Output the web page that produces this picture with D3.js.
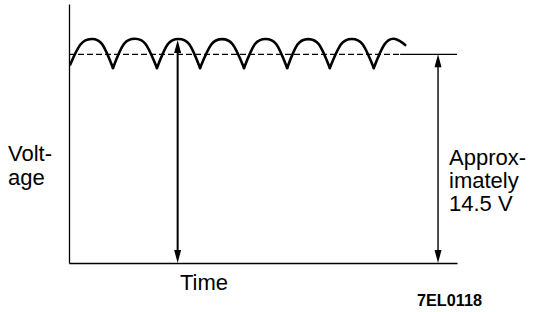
<!DOCTYPE html>
<html lang="en">
<head>
    <meta charset="UTF-8">
    <title>Charging voltage ripple</title>
    <style>
        body { margin: 0; background: #fff; }
        text { font-family: "Liberation Sans", Arial, sans-serif; fill: #000; }
    </style>
</head>
<body>

    <div id="d3-container"></div>

    <script src="https://d3js.org/d3.v7.min.js"></script>
    <script>
        // ripple: one array per half wave (time in ripple periods, volts)
        const arcTimes = [
            [0.03, 0.27, 0.52, 0.77, 1.02],
            [1.02, 1.27, 1.53, 1.78, 2.04],
            [2.04, 2.29, 2.54, 2.79, 3.04],
            [3.04, 3.30, 3.55, 3.80, 4.06],
            [4.06, 4.31, 4.56, 4.81, 5.06],
            [5.06, 5.30, 5.55, 5.80, 6.05],
            [6.05, 6.31, 6.56, 6.81, 7.07],
            [7.07, 7.32, 7.57, 7.80]];
        const arcVolts = [
            [13.8, 15.2, 15.57, 15.2, 13.55],
            [13.55, 15.2, 15.58, 15.2, 13.55],
            [13.55, 15.2, 15.57, 15.2, 13.55],
            [13.55, 15.18, 15.56, 15.18, 13.55],
            [13.55, 15.2, 15.57, 15.2, 13.55],
            [13.55, 15.18, 15.56, 15.18, 13.55],
            [13.55, 15.2, 15.57, 15.2, 13.55],
            [13.55, 15.2, 15.57, 15.15]];

        const avgVolt = 14.5;
        const dashEnd = 7.68;        // dashed part of the 14.5 V line ends here
        const peakArrowT = 2.52;     // arrow from 0 up to a ripple peak
        const peakArrowV = 15.5;
        const levelArrowT = 8.56;    // arrow from 0 up to 14.5 V

        const yLabel = ["Volt-", "age"];
        const xLabel = "Time";
        const note = ["Approx-", "imately", "14.5 V"];
        const figCode = "7EL0118";

        const width = 544;
        const height = 312;

        const svg = d3.select('#d3-container')
            .append('svg')
            .attr('width', width)
            .attr('height', height)
            .attr('viewBox', [0, 0, width, height]);

        const x = d3.scaleLinear()
            .domain([0, 9])
            .range([69, 457]);

        const y = d3.scaleLinear()
            .domain([0, 18])
            .range([263, 4]);

        // axes without ticks
        svg.append('g')
            .attr('transform', `translate(${x(0)},0)`)
            .call(d3.axisLeft(y).tickValues([]).tickSizeOuter(0))
            .select('.domain').attr('stroke-width', 1.3);
        svg.append('g')
            .attr('transform', `translate(0,${y(0)})`)
            .call(d3.axisBottom(x).tickValues([]).tickSizeOuter(0))
            .select('.domain').attr('stroke-width', 1.3);

        // 14.5 V level: dashed over the ripple, solid after it
        svg.append('line')
            .attr('x1', x(0)).attr('x2', x(dashEnd))
            .attr('y1', y(avgVolt)).attr('y2', y(avgVolt))
            .attr('stroke', '#000')
            .attr('stroke-width', 1.1)
            .attr('stroke-dasharray', '6 3');
        svg.append('line')
            .attr('x1', x(dashEnd)).attr('x2', x(9))
            .attr('y1', y(avgVolt)).attr('y2', y(avgVolt))
            .attr('stroke', '#000')
            .attr('stroke-width', 1.4);

        // ripple
        const wave = d3.line()
            .x(d => x(d[0]))
            .y(d => y(d[1]))
            .curve(d3.curveNatural);

        svg.append('g')
            .selectAll('path')
            .data(arcTimes.map((ts, i) => ts.map((t, j) => [t, arcVolts[i][j]])))
            .join('path')
            .attr('d', wave)
            .attr('fill', 'none')
            .attr('stroke', '#000')
            .attr('stroke-width', 2.6)
            .attr('stroke-linecap', 'round');

        // double headed arrows
        function arrow(t, v0, v1, w) {
            const px = x(t), top = y(v1), bot = y(v0);
            const g = svg.append('g');
            g.append('line')
                .attr('x1', px).attr('x2', px)
                .attr('y1', top + 6).attr('y2', bot - 6)
                .attr('stroke', '#000')
                .attr('stroke-width', w);
            g.append('path')
                .attr('d', `M${px},${top}L${px - 3.5},${top + 13}L${px + 3.5},${top + 13}Z`);
            g.append('path')
                .attr('d', `M${px},${bot}L${px - 3.5},${bot - 13}L${px + 3.5},${bot - 13}Z`);
        }
        arrow(peakArrowT, 0, peakArrowV, 2);
        arrow(levelArrowT, 0, avgVolt, 1.4);

        // labels
        svg.append('g')
            .selectAll('text')
            .data(yLabel)
            .join('text')
            .attr('x', 8)
            .attr('y', (d, i) => 161 + i * 23.5)
            .attr('font-size', 22)
            .text(d => d);

        svg.append('text')
            .attr('x', 180)
            .attr('y', 290)
            .attr('font-size', 22)
            .text(xLabel);

        svg.append('g')
            .selectAll('text')
            .data(note)
            .join('text')
            .attr('x', 449)
            .attr('y', (d, i) => 165 + i * 23)
            .attr('font-size', 22)
            .text(d => d);

        svg.append('text')
            .attr('x', 417)
            .attr('y', 306)
            .attr('font-size', 17)
            .attr('font-weight', 'bold')
            .attr('textLength', 65)
            .attr('lengthAdjust', 'spacingAndGlyphs')
            .text(figCode);
    </script>

</body>
</html>
